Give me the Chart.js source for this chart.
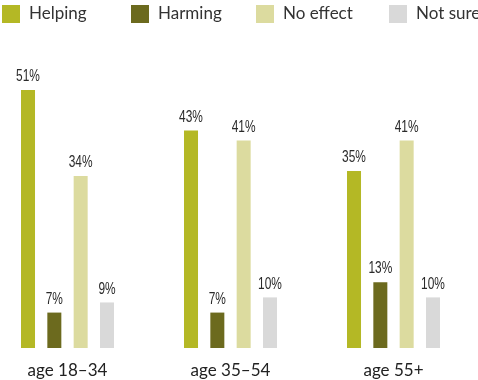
<!DOCTYPE html>
<html>
<head>
<meta charset="utf-8">
<script src="https://cdn.jsdelivr.net/npm/chart.js@4"></script>
<style>
  html, body { margin: 0; padding: 0; background: #fff; }
  #wrap { width: 478px; height: 380px; position: relative; }
</style>
</head>
<body>
<div id="wrap"><canvas id="c" width="478" height="380"></canvas></div>
<script>
const categories = ["age 18\u201334", "age 35\u201354", "age 55+"];
const seriesNames = ["Helping", "Harming", "No effect", "Not sure"];
const helping = [51, 43, 35];
const harming = [7, 7, 13];
const noEffect = [34, 41, 41];
const notSure = [9, 10, 10];
const colors = ["#b4b825", "#6c6a1e", "#dcdb9f", "#d9d9d9"];

const seriesValues = [helping, harming, noEffect, notSure];

const legendPlugin = {
  id: 'customLegend',
  afterDraw(chart) {
    const ctx = chart.ctx;
    const xs = [2, 131, 256, 389];
    ctx.save();
    ctx.font = '17px Lato';
    ctx.textBaseline = 'middle';
    ctx.textAlign = 'left';
    chart.data.datasets.forEach((ds, i) => {
      ctx.fillStyle = ds.backgroundColor;
      ctx.fillRect(xs[i], 5, 18, 18);
      ctx.fillStyle = '#333';
      ctx.fillText(ds.label, xs[i] + 27, 14);
    });
    ctx.restore();
  }
};

const labelPlugin = {
  id: 'barLabels',
  afterDatasetsDraw(chart) {
    const ctx = chart.ctx;
    chart.data.datasets.forEach((ds, di) => {
      const meta = chart.getDatasetMeta(di);
      meta.data.forEach((el, i) => {
        ctx.save();
        ctx.translate(el.x, el.y - 5);
        ctx.scale(0.7, 1);
        ctx.font = '17px "Liberation Sans"';
        ctx.fillStyle = '#2a2a2a';
        ctx.textAlign = 'center';
        ctx.textBaseline = 'bottom';
        ctx.fillText(ds.data[i] + '%', 0, 0);
        ctx.restore();
      });
    });
  }
};

new Chart(document.getElementById('c'), {
  type: 'bar',
  data: {
    labels: categories,
    datasets: seriesNames.map((name, i) => ({
      label: name,
      data: seriesValues[i],
      backgroundColor: colors[i],
      borderWidth: 0,
      clip: false,
      categoryPercentage: 0.646,
      barPercentage: 0.532
    }))
  },
  options: {
    responsive: false,
    animation: false,
    events: [],
    layout: { padding: { left: 67.5, right: 84.5, top: 44.4, bottom: 0 } },
    plugins: { legend: { display: false }, tooltip: { enabled: false } },
    scales: {
      x: {
        offset: false,
        grid: { display: false, drawTicks: false },
        border: { display: false },
        ticks: {
          autoSkip: false, maxRotation: 0, minRotation: 0,
          padding: 12,
          color: '#222',
          font: { family: 'Lato', size: 17 }
        },
        afterFit(scale) { scale.height = 32; }
      },
      y: {
        display: false,
        min: 0,
        max: 60
      }
    }
  },
  plugins: [legendPlugin, labelPlugin]
});
</script>
</body>
</html>
